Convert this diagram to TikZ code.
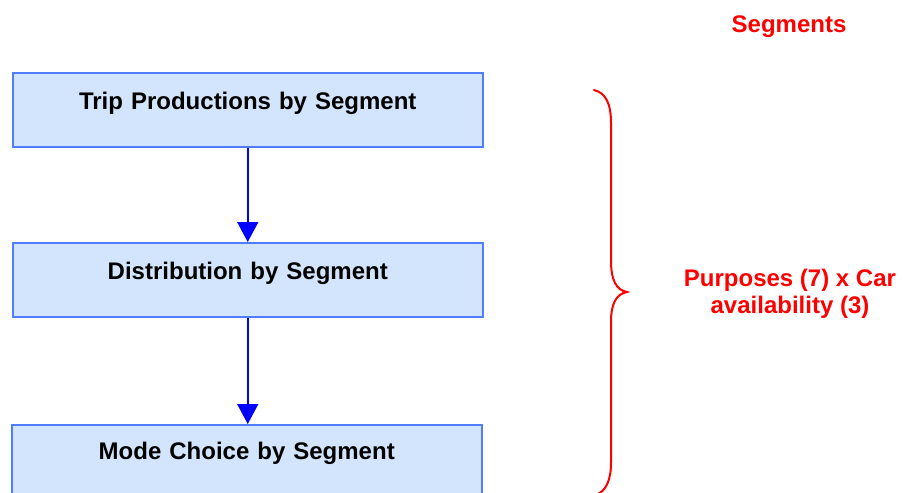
\documentclass[tikz,border=0pt]{standalone}
\usepackage{fontspec}
\setmainfont{Liberation Sans}
\usetikzlibrary{arrows.meta}
\definecolor{boxfill}{RGB}{211,229,252}
\definecolor{boxedge}{RGB}{80,125,255}
\definecolor{flowblue}{RGB}{0,0,255}
\definecolor{segred}{RGB}{255,0,0}
\begin{document}
\begin{tikzpicture}[x=1pt,y=-1pt,
  stagebox/.style={draw=boxedge,fill=boxfill,line width=1.5pt,anchor=north west,
    inner sep=0pt,minimum width=470pt,text width=470pt,align=center,
    text height=37pt,text depth=37pt,font=\fontsize{24}{27}\selectfont\bfseries},
  flow/.style={draw=flowblue,line width=1.5pt,-{Triangle[width=21pt,length=20pt]}},
  redlabel/.style={text=segred,font=\fontsize{24}{27}\selectfont\bfseries,align=center,inner sep=0pt}]
  \useasboundingbox (0,0) rectangle (906,493);
  % processing stages
  \node[stagebox] (prod) at (12,72) {Trip Productions by Segment};
  \node[stagebox] (dist) at (12,242) {Distribution by Segment};
  \node[stagebox,text height=35pt,text depth=39pt] (mode) at (11,424) {Mode Choice by Segment};
  % flow between stages
  \draw[flow] (prod.south) -- (dist.north);
  \draw[flow] (dist.south) -- (dist.south |- mode.north);
  % segment labels
  \node[redlabel] (seg) at (789,27) {Segments};
  \node[redlabel] (purp) at (790,294) {Purposes (7) x Car\\availability (3)};
  % curly brace spanning the three stages
  \draw[segred,line width=2pt,line cap=round]
    (594,90) .. controls (606,93) and (611,104) .. (611,123)
    -- (611,260) .. controls (611,280) and (616,290) .. (627,292)
    .. controls (616,294) and (611,304) .. (611,322)
    -- (611,463) .. controls (611,480) and (606,490) .. (598,494);
\end{tikzpicture}
\end{document}
